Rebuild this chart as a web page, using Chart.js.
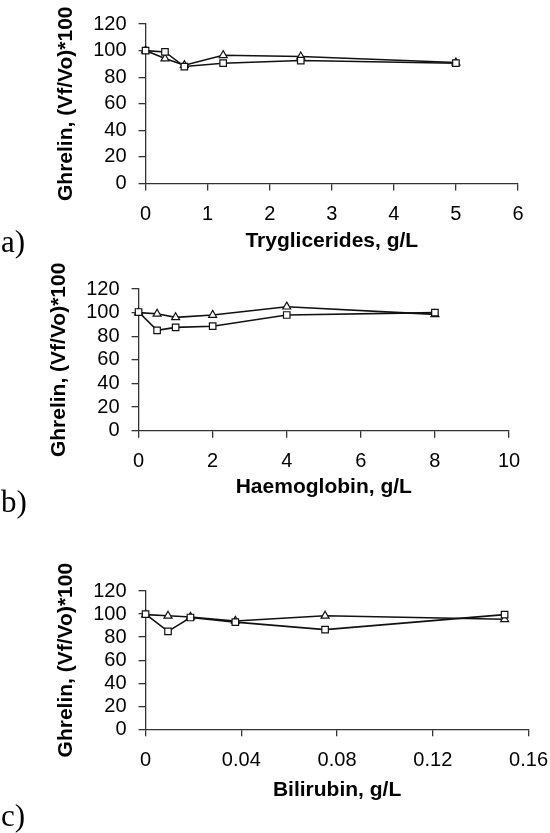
<!DOCTYPE html>
<html>
<head>
<meta charset="utf-8">
<script src="https://cdn.jsdelivr.net/npm/chart.js@4.4.0/dist/chart.umd.min.js"></script>
<style>
  body { margin: 0; background: #fff; }
  #wrap { position: relative; width: 550px; height: 833px; overflow: hidden; }
  canvas { position: absolute; left: 0; }
  .tag { position: absolute; left: 1px; font-family: "Liberation Serif", "Times New Roman", serif; font-size: 31px; color: #000; line-height: 1; }
</style>
</head>
<body>
<div id="wrap">
  <canvas id="chartA" width="550" height="256" style="top:0px"></canvas>
  <canvas id="chartB" width="550" height="246" style="top:256px"></canvas>
  <canvas id="chartC" width="560" height="303" style="top:502px"></canvas>
  <div class="tag" style="top:226px">a)</div>
  <div class="tag" style="top:486px">b)</div>
  <div class="tag" style="top:800px">c)</div>
</div>
<script>
// shared y axis
const yTicks = [0, 20, 40, 60, 80, 100, 120];
const yTitle = "Ghrelin, (Vf/Vo)*100";

// a) tryglicerides
const trigX = [0, 0.3125, 0.625, 1.25, 2.5, 5];
const trigSquares = [100, 99, 88, 90.5, 92.5, 90.5];
const trigTriangles = [100, 94, 89, 96.5, 95.5, 91];
const trigTicks = [0, 1, 2, 3, 4, 5, 6];

// b) haemoglobin
const haemX = [0, 0.5, 1, 2, 4, 8];
const haemSquares = [100.5, 85, 87.5, 88.5, 98, 100];
const haemTriangles = [100, 99, 96, 98, 105, 98.5];
const haemTicks = [0, 2, 4, 6, 8, 10];

// c) bilirubin
const biliX = [0, 0.009375, 0.01875, 0.0375, 0.075, 0.15];
const biliSquares = [100, 85, 97, 93, 86.5, 99.5];
const biliTriangles = [99.5, 98.5, 97.5, 94, 98.5, 95.5];
const biliTicks = [0, 0.04, 0.08, 0.12, 0.16];

const axisColor = '#333';
const tickFont = { family: 'Liberation Sans, Arial, sans-serif', size: 20 };
const titleFont = { family: 'Liberation Sans, Arial, sans-serif', size: 21, weight: 'bold' };

function pts(xs, ys) {
    return xs.map((x, i) => ({ x: x, y: ys[i] }));
}

function makePanel(id, xs, squares, triangles, xTicks, xTitle, pad, xTitleTop) {
    const ctx = document.getElementById(id);
    return new Chart(ctx, {
        type: 'line',
        data: {
            datasets: [
                {
                    data: pts(xs, squares),
                    borderColor: '#111',
                    borderWidth: 1.6,
                    pointStyle: 'rect',
                    pointRadius: 4.6,
                    pointBackgroundColor: '#fff',
                    pointBorderColor: '#111',
                    pointBorderWidth: 1.2,
                    clip: false
                },
                {
                    data: pts(xs, triangles),
                    borderColor: '#111',
                    borderWidth: 1.6,
                    pointStyle: 'triangle',
                    pointRadius: 4.6,
                    pointBackgroundColor: '#fff',
                    pointBorderColor: '#111',
                    pointBorderWidth: 1.2,
                    clip: false
                }
            ]
        },
        options: {
            responsive: false,
            animation: false,
            devicePixelRatio: 1,
            layout: { padding: pad, autoPadding: false },
            plugins: { legend: { display: false }, tooltip: { enabled: false } },
            scales: {
                x: {
                    type: 'linear',
                    min: xTicks[0],
                    max: xTicks[xTicks.length - 1],
                    afterBuildTicks: s => { s.ticks = xTicks.map(v => ({ value: v })); },
                    ticks: { color: '#000', font: tickFont, padding: 12, maxRotation: 0, autoSkip: false,
                             callback: v => String(v) },
                    grid: { drawOnChartArea: false, drawTicks: true, tickLength: 7, color: axisColor, lineWidth: 1.3 },
                    border: { color: axisColor, width: 1.3 },
                    title: { display: true, text: xTitle, color: '#000', font: titleFont,
                             padding: { top: xTitleTop, bottom: 2 } }
                },
                y: {
                    min: yTicks[0],
                    max: yTicks[yTicks.length - 1],
                    afterBuildTicks: s => { s.ticks = yTicks.map(v => ({ value: v })); },
                    ticks: { color: '#000', font: tickFont, padding: 12, autoSkip: false },
                    grid: { drawOnChartArea: false, drawTicks: true, tickLength: 7, color: axisColor, lineWidth: 1.3 },
                    border: { color: axisColor, width: 1.3 },
                    title: { display: true, text: yTitle, color: '#000', font: titleFont,
                             padding: { top: 4, bottom: 2 } }
                }
            }
        }
    });
}

makePanel('chartA', trigX, trigSquares, trigTriangles, trigTicks, 'Tryglicerides, g/L',
    { left: 50, right: 32, top: 24, bottom: 0 }, -9.7);
makePanel('chartB', haemX, haemSquares, haemTriangles, haemTicks, 'Haemoglobin, g/L',
    { left: 43, right: 41, top: 33, bottom: 0 }, -10.9);
makePanel('chartC', biliX, biliSquares, biliTriangles, biliTicks, 'Bilirubin, g/L',
    { left: 50, right: 21, top: 89, bottom: 0 }, -6.5);
</script>
</body>
</html>
